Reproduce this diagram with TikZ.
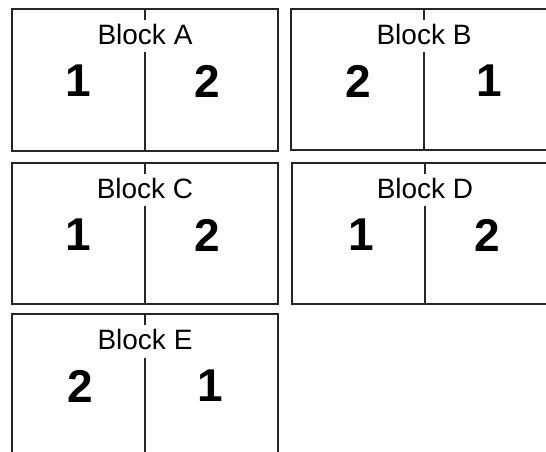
\documentclass[tikz,border=0pt]{standalone}
\usepackage{fontspec}
\setmainfont{Liberation Sans}
\usepackage{xcolor}
\usepackage{tikz}

\begin{document}
\begin{tikzpicture}[x=1pt, y=-1pt, line width=2.1pt, draw=black!85,
    title/.style={font=\fontsize{28}{28}\selectfont, inner sep=0pt},
    digit/.style={font=\fontsize{46}{46}\selectfont\bfseries, inner sep=0pt}]

    \useasboundingbox (0,0) rectangle (546,452);
    \clip (0,0) rectangle (546,452);

    % Block A
    \draw (12,9) rectangle (278,151);
    \draw (145,9) -- (145,20);
    \draw (145,52) -- (145,151);
    \node[title] (titleA) at (145,34) {Block A};
    \node[digit] (leftA) at (78,81) {1};
    \node[digit] (rightA) at (207,81) {2};

    % Block B
    \draw (291,9) rectangle (557,150);
    \draw (424,9) -- (424,20);
    \draw (424,52) -- (424,150);
    \node[title] (titleB) at (424,34) {Block B};
    \node[digit] (leftB) at (358,81) {2};
    \node[digit] (rightB) at (489,81) {1};

    % Block C
    \draw (12,163) rectangle (278,304);
    \draw (145,163) -- (145,174);
    \draw (145,206) -- (145,304);
    \node[title] (titleC) at (145,188) {Block C};
    \node[digit] (leftC) at (78,235) {1};
    \node[digit] (rightC) at (207,235) {2};

    % Block D
    \draw (292,163) rectangle (558,304);
    \draw (425,163) -- (425,174);
    \draw (425,206) -- (425,304);
    \node[title] (titleD) at (425,188) {Block D};
    \node[digit] (leftD) at (361,235) {1};
    \node[digit] (rightD) at (487,235) {2};

    % Block E
    \draw (12,314) rectangle (278,456);
    \draw (145,314) -- (145,325);
    \draw (145,358) -- (145,456);
    \node[title] (titleE) at (145,339) {Block E};
    \node[digit] (leftE) at (80,386) {2};
    \node[digit] (rightE) at (210,386) {1};
\end{tikzpicture}
\end{document}
